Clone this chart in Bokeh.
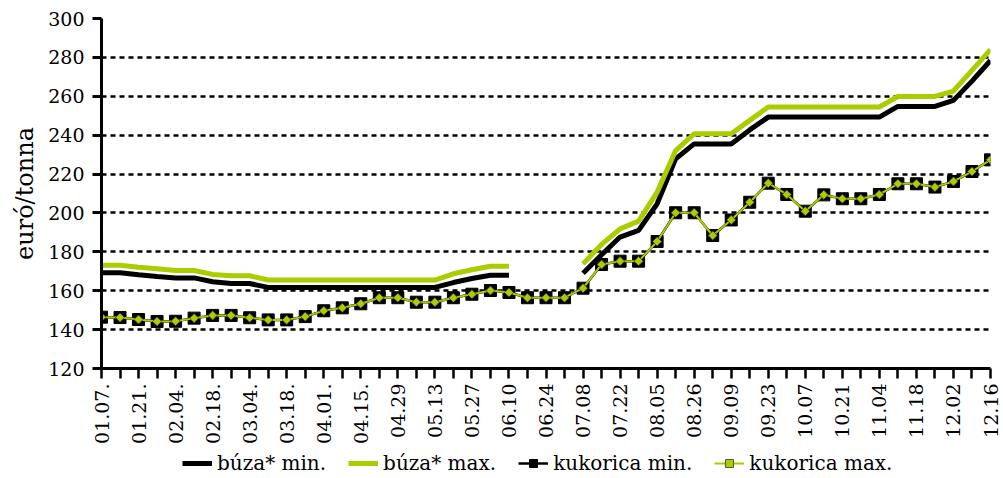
import math
from bokeh.plotting import figure
from bokeh.layouts import column
from bokeh.models import Range1d, FixedTicker, Legend, LegendItem
from bokeh.embed import file_html
from bokeh.resources import INLINE

weeks = ["01.07.", "01.14.", "01.21.", "01.28.", "02.04.", "02.11.", "02.18.", "02.25.",
         "03.04.", "03.11.", "03.18.", "03.25.", "04.01.", "04.08.", "04.15.", "04.22.",
         "04.29", "05.06", "05.13", "05.20", "05.27", "06.03", "06.10", "06.17",
         "06.24", "07.01", "07.08", "07.15", "07.22", "07.29", "08.05", "08.12",
         "08.26", "09.02", "09.09", "09.16", "09.23", "09.30", "10.07", "10.14",
         "10.21", "10.28", "11.04", "11.11", "11.18", "11.25", "12.02", "12.09", "12.16"]

nan = float("nan")
wheat_min = [169.2, 169.2, 168.2, 167.3, 166.6, 166.6, 164.6, 163.7, 163.7, 161.7,
             161.7, 161.7, 161.7, 161.7, 161.7, 161.7, 161.7, 161.7, 161.7, 164.2,
             166.3, 168.0, 168.0, nan, nan, nan, 169.0, 178.5, 187.6, 191.0,
             204.7, 227.8, 235.5, 235.5, 235.5, 242.7, 249.3, 249.3, 249.3, 249.3,
             249.3, 249.3, 249.3, 254.8, 254.8, 254.8, 257.9, 267.8, 278.4]
wheat_max = [173.1, 173.1, 172.1, 171.3, 170.4, 170.4, 168.4, 167.7, 167.7, 165.5,
             165.5, 165.5, 165.5, 165.5, 165.5, 165.5, 165.5, 165.5, 165.5, 168.7,
             170.8, 172.6, 172.6, nan, nan, nan, 173.8, 183.8, 191.8, 195.8,
             210.7, 232.1, 240.7, 240.7, 240.7, 247.6, 254.5, 254.5, 254.5, 254.5,
             254.5, 254.5, 254.5, 259.9, 259.9, 259.9, 262.7, 273.3, 284.0]
corn_min = [146.4, 146.2, 145.2, 144.2, 144.3, 145.9, 147.3, 147.3, 146.1, 145.0,
            145.0, 146.7, 149.7, 151.2, 153.3, 156.4, 156.4, 154.1, 154.1, 156.4,
            158.2, 160.1, 159.1, 156.4, 156.4, 156.4, 161.3, 173.5, 175.2, 175.2,
            185.3, 200.1, 200.1, 188.4, 196.4, 205.5, 215.3, 209.5, 200.9, 209.3,
            207.3, 207.3, 209.5, 215.0, 215.0, 213.3, 216.2, 221.3, 227.3]
corn_max = [146.4, 146.2, 145.2, 144.2, 144.3, 145.9, 147.3, 147.3, 146.1, 145.0,
            145.0, 146.7, 149.7, 151.2, 153.3, 156.4, 156.4, 154.1, 154.1, 156.4,
            158.2, 160.1, 159.1, 156.4, 156.4, 156.4, 161.3, 173.5, 175.2, 175.2,
            185.3, 200.1, 200.1, 188.4, 196.4, 205.5, 215.3, 209.5, 200.9, 209.3,
            207.3, 207.3, 209.5, 215.0, 215.0, 213.3, 216.2, 221.3, 227.3]
y_ticks = [120, 140, 160, 180, 200, 220, 240, 260, 280, 300]
series_names = ["búza* min.", "búza* max.", "kukorica min.", "kukorica max."]

GREEN = "#AACC00"
FONT = "DejaVu Serif"
x = list(range(len(weeks)))

p = figure(width=1003, height=448, output_backend="svg", toolbar_location=None,
           x_range=Range1d(0, len(weeks) - 1), y_range=Range1d(120, 300),
           min_border_left=101, min_border_right=13, min_border_top=18,
           min_border_bottom=80)
p.outline_line_color = None
p.background_fill_color = "white"

# grid
p.xgrid.visible = False
p.ygrid.ticker = FixedTicker(ticks=y_ticks)
p.ygrid.grid_line_color = "black"
p.ygrid.grid_line_dash = "5 4"
p.ygrid.grid_line_width = 2.5

# y axis
p.yaxis.ticker = FixedTicker(ticks=y_ticks)
p.yaxis.axis_line_width = 3
p.yaxis.major_tick_line_width = 3
p.yaxis.major_tick_out = 9
p.yaxis.major_tick_in = 0
p.yaxis.minor_tick_out = 0
p.yaxis.major_label_text_font = FONT
p.yaxis.major_label_text_font_size = "19px"
p.yaxis.major_label_text_color = "black"
p.yaxis.major_label_standoff = 8
p.yaxis.axis_label = "euró/tonna"
p.yaxis.axis_label_text_font = FONT
p.yaxis.axis_label_text_font_style = "normal"
p.yaxis.axis_label_text_font_size = "24px"
p.yaxis.axis_label_text_color = "black"
p.yaxis.axis_label_standoff = 6

# x axis
p.xaxis.ticker = FixedTicker(ticks=x)
p.xaxis.major_label_overrides = {i: (weeks[i] if i % 2 == 0 else "") for i in x}
p.xaxis.major_label_orientation = math.pi / 2
p.xaxis.axis_line_width = 3
p.xaxis.major_tick_line_width = 2.5
p.xaxis.major_tick_out = 10
p.xaxis.major_tick_in = 0
p.xaxis.minor_tick_out = 0
p.xaxis.major_label_text_font = FONT
p.xaxis.major_label_text_font_size = "19px"
p.xaxis.major_label_text_color = "black"
p.xaxis.major_label_standoff = 5

# series
def draw(fig):
    a = fig.line(x, wheat_min, line_color="black", line_width=5)
    b = fig.line(x, wheat_max, line_color=GREEN, line_width=5)
    c = fig.line(x, corn_min, line_color="black", line_width=2.5)
    cm = fig.scatter(x, corn_min, marker="square", size=12, fill_color="black", line_color="black")
    d = fig.line(x, corn_max, line_color=GREEN, line_width=2)
    dm = fig.scatter(x, corn_max, marker="square", angle=math.pi / 4, size=6.5,
                     fill_color=GREEN, line_color="#333333", line_width=0.8)
    return a, b, c, cm, d, dm

draw(p)

# legend strip: same series, drawn outside its visible range (only legend shows)
q = figure(width=1003, height=30, output_backend="svg", toolbar_location=None,
           x_range=Range1d(0, 1), y_range=Range1d(-2, -1),
           x_axis_location=None, y_axis_location=None,
           min_border_left=0, min_border_right=0, min_border_top=0, min_border_bottom=0)
q.outline_line_color = None
q.grid.visible = False
a, b, c, cm, d, dm = draw(q)

legend = Legend(items=[LegendItem(label=series_names[0], renderers=[a]),
                       LegendItem(label=series_names[1], renderers=[b]),
                       LegendItem(label=series_names[2], renderers=[c, cm]),
                       LegendItem(label=series_names[3], renderers=[d, dm])],
                orientation="horizontal", location=(81, 3),
                border_line_color=None, background_fill_alpha=0,
                label_text_font=FONT, label_text_font_size="20px",
                label_text_color="black",
                glyph_width=30, label_standoff=5, spacing=22, padding=0, margin=0)
q.add_layout(legend, "center")

open("out.html", "w").write(file_html(column(p, q), INLINE))
